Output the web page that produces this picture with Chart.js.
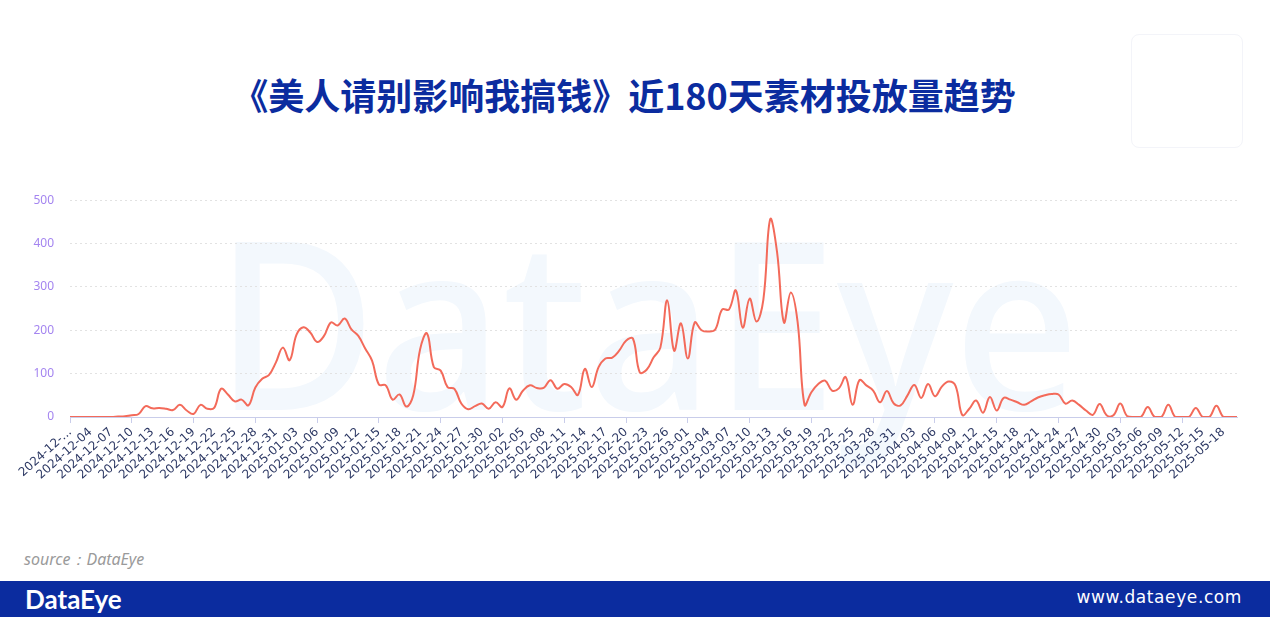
<!DOCTYPE html>
<html>
<head>
<meta charset="utf-8">
<script src="https://cdn.jsdelivr.net/npm/chart.js@4/dist/chart.umd.min.js"></script>
<style>
  html, body { margin:0; padding:0; background:#fff; width:1270px; height:617px; overflow:hidden; font-family:"Noto Sans", "Noto Sans CJK SC", sans-serif; }
  #title { position:absolute; left:0; top:70px; width:1270px; text-align:center; font-family:"Noto Sans CJK SC", sans-serif; font-weight:700; font-size:36px; line-height:48px; color:#0b2c9f; padding-right:22px; box-sizing:border-box; }
  #wrap { position:absolute; left:0; top:177px; width:1270px; height:320px; }
  #qr { position:absolute; left:1131px; top:34px; width:110px; height:112px; border:1px solid #f3f4f9; border-radius:8px; }
  #source { position:absolute; left:24px; top:548px; font-size:16px; font-style:italic; color:#9a9a9a; font-family:"Noto Sans", sans-serif; }
  #footer { position:absolute; left:0; top:581px; width:1270px; height:36px; background:#0b2c9f; }
  #logo { position:absolute; left:25px; top:2px; font-family:"Lato", sans-serif; font-weight:700; font-size:26px; color:#fff; letter-spacing:0px; }
  #url { position:absolute; right:28px; top:6px; font-family:"DejaVu Sans", sans-serif; font-size:17px; color:#fff; letter-spacing:0.6px; }
</style>
</head>
<body>
<div id="title">《美人请别影响我搞钱》近180天素材投放量趋势</div>
<div id="qr"></div>
<div id="wrap"><canvas id="c" width="1270" height="320"></canvas></div>
<div id="source">source：DataEye</div>
<div id="footer"><div id="logo">DataEye</div><div id="url">www.dataeye.com</div></div>
<script>
const dates = [
 "2024-12-01","2024-12-02","2024-12-03","2024-12-04","2024-12-05","2024-12-06","2024-12-07","2024-12-08","2024-12-09","2024-12-10",
 "2024-12-11","2024-12-12","2024-12-13","2024-12-14","2024-12-15","2024-12-16","2024-12-17","2024-12-18","2024-12-19","2024-12-20",
 "2024-12-21","2024-12-22","2024-12-23","2024-12-24","2024-12-25","2024-12-26","2024-12-27","2024-12-28","2024-12-29","2024-12-30","2024-12-31",
 "2025-01-01","2025-01-02","2025-01-03","2025-01-04","2025-01-05","2025-01-06","2025-01-07","2025-01-08","2025-01-09","2025-01-10",
 "2025-01-11","2025-01-12","2025-01-13","2025-01-14","2025-01-15","2025-01-16","2025-01-17","2025-01-18","2025-01-19","2025-01-20",
 "2025-01-21","2025-01-22","2025-01-23","2025-01-24","2025-01-25","2025-01-26","2025-01-27","2025-01-28","2025-01-29","2025-01-30","2025-01-31",
 "2025-02-01","2025-02-02","2025-02-03","2025-02-04","2025-02-05","2025-02-06","2025-02-07","2025-02-08","2025-02-09","2025-02-10",
 "2025-02-11","2025-02-12","2025-02-13","2025-02-14","2025-02-15","2025-02-16","2025-02-17","2025-02-18","2025-02-19","2025-02-20",
 "2025-02-21","2025-02-22","2025-02-23","2025-02-24","2025-02-25","2025-02-26","2025-02-27","2025-02-28",
 "2025-03-01","2025-03-02","2025-03-03","2025-03-04","2025-03-05","2025-03-06","2025-03-07","2025-03-08","2025-03-09","2025-03-10",
 "2025-03-11","2025-03-12","2025-03-13","2025-03-14","2025-03-15","2025-03-16","2025-03-17","2025-03-18","2025-03-19","2025-03-20",
 "2025-03-21","2025-03-22","2025-03-23","2025-03-24","2025-03-25","2025-03-26","2025-03-27","2025-03-28","2025-03-29","2025-03-30","2025-03-31",
 "2025-04-01","2025-04-02","2025-04-03","2025-04-04","2025-04-05","2025-04-06","2025-04-07","2025-04-08","2025-04-09","2025-04-10",
 "2025-04-11","2025-04-12","2025-04-13","2025-04-14","2025-04-15","2025-04-16","2025-04-17","2025-04-18","2025-04-19","2025-04-20",
 "2025-04-21","2025-04-22","2025-04-23","2025-04-24","2025-04-25","2025-04-26","2025-04-27","2025-04-28","2025-04-29","2025-04-30",
 "2025-05-01","2025-05-02","2025-05-03","2025-05-04","2025-05-05","2025-05-06","2025-05-07","2025-05-08","2025-05-09","2025-05-10",
 "2025-05-11","2025-05-12","2025-05-13","2025-05-14","2025-05-15","2025-05-16","2025-05-17","2025-05-18","2025-05-19","2025-05-20"
];
const volumeDec = [0,0,0,0,0,0,0,1,2,4, 7,25,20,21,19,16,28,15,7,28, 19,21,65,52,36,40,27,68,88,97,126];
const volumeJan = [160,131,190,207,195,173,187,218,211,227, 202,187,158,130,75,73,40,52,24,50, 156,193,115,107,69,65,31,18,25,31,19];
const volumeFeb = [34,23,66,40,61,73,67,67,85,65, 76,69,51,111,69,115,135,137,153,176, 181,103,109,137,160,269,153,216];
const volumeMar = [135,218,200,197,202,248,248,292,206,273, 220,270,456,380,218,287,218,28,57,76, 84,61,66,92,28,85,73,61,34,60,31];
const volumeApr = [27,50,74,44,76,48,70,82,72,4, 19,38,10,46,15,44,40,34,28,36, 45,50,53,52,31,38,28,15,5,30];
const volumeMay = [4,4,31,2,0,0,23,0,0,28, 0,0,0,21,0,0,26,0,0,0];
const volume = [].concat(volumeDec, volumeJan, volumeFeb, volumeMar, volumeApr, volumeMay);
const yTicks = [0,100,200,300,400,500];
const firstLabel = "2024-12-...";

const watermark = {
  id:'watermark',
  beforeDraw(chart){
    const ctx = chart.ctx;
    ctx.save();
    ctx.fillStyle = '#f3f8fd';
    ctx.font = '500 235px "Noto Sans", sans-serif';
    ctx.textBaseline = 'alphabetic';
    ctx.textAlign = 'left';
    ctx.fillText('DataEye', 215, 233, 865);
    ctx.restore();
  }
};

new Chart(document.getElementById('c'), {
  type:'line',
  data:{ labels:dates, datasets:[{ data:volume, borderColor:'#f36a5a', borderWidth:2, pointRadius:0, pointHoverRadius:0, tension:0.4, fill:false }] },
  plugins:[watermark],
  options:{
    responsive:false, animation:false,
    layout:{ padding:{ left:0, right:33, top:16, bottom:0 } },
    plugins:{ legend:{display:false}, tooltip:{enabled:false} },
    scales:{
      x:{
        offset:false,
        border:{ display:true, color:'#c9cdea', width:1 },
        grid:{ drawOnChartArea:false, drawTicks:true, tickLength:6, color:(c)=> (c.index%3===0 ? '#c9cdea' : 'rgba(0,0,0,0)') },
        ticks:{ autoSkip:false, maxRotation:42, minRotation:42, padding:2, color:'#2b3763', font:{ size:12, family:'"DejaVu Sans", sans-serif' },
          callback:(v,i)=> i===0 ? firstLabel : (i%3===0 ? dates[i] : null) },
        afterFit:(s)=>{ s.height = 80; }
      },
      y:{
        min:0, max:500,
        border:{ display:false, dash:[2,3] },
        grid:{ drawTicks:false, color:'#e2e2e2', lineWidth:1 },
        ticks:{ stepSize:100, padding:16, color:'#a485f0', font:{ size:12, family:'"Noto Sans", sans-serif' },
          callback:(v)=> yTicks.includes(v) ? String(v) : null },
        afterFit:(s)=>{ s.width = 70; }
      }
    }
  }
});
</script>
</body>
</html>
